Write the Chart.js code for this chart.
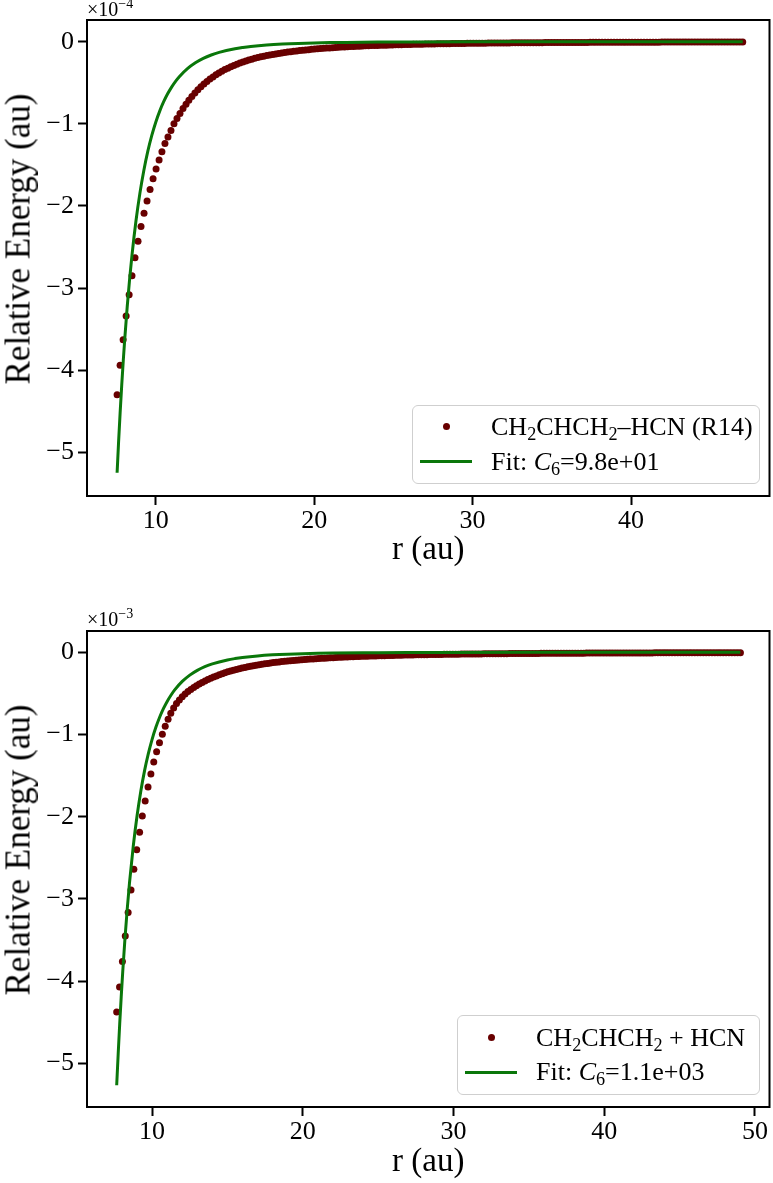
<!DOCTYPE html>
<html><head><meta charset="utf-8">
<script src="https://cdn.jsdelivr.net/npm/chart.js@4.4.0/dist/chart.umd.min.js"></script>
<style>
html,body{margin:0;padding:0;background:#fff;}
body{width:773px;height:1183px;position:relative;overflow:hidden;font-family:"Liberation Serif","DejaVu Serif",serif;color:#000;}
canvas{position:absolute;left:0;}
#c1{top:0;}
#c2{top:590px;}
.off{position:absolute;font-size:20px;line-height:1;white-space:nowrap;}
.off sup{font-size:70%;vertical-align:0.55em;line-height:0;}
.ytitle{position:absolute;font-size:35px;line-height:1;white-space:nowrap;transform:translate(-50%,-50%) rotate(-90deg);}
.legend{position:absolute;box-sizing:border-box;background:rgba(255,255,255,0.85);border:1.5px solid #cfcfcf;border-radius:6px;}
.legend .dot{position:absolute;width:7px;height:7px;border-radius:50%;background:#680000;}
.legend .ln{position:absolute;width:52px;height:3px;background:#0a770a;}
.legend .txt{position:absolute;font-size:26px;line-height:1;white-space:nowrap;transform:translateY(-50%);}
.legend sub{font-size:70%;vertical-align:-0.25em;line-height:0;}
</style>
</head><body>
<canvas id="c1" width="773" height="590"></canvas>
<canvas id="c2" width="773" height="593"></canvas>
<div class="off" style="left:87px;top:-1px;">×10<sup>−4</sup></div>
<div class="off" style="left:87px;top:609px;">×10<sup>−3</sup></div>
<div class="ytitle" style="left:18px;top:239px;">Relative Energy (au)</div>
<div class="ytitle" style="left:18px;top:850px;">Relative Energy (au)</div>
<div class="legend" style="left:412px;top:405px;width:348px;height:79px;">
  <span class="dot" style="left:30px;top:17px;"></span>
  <span class="ln" style="left:7px;top:54px;"></span>
  <span class="txt" style="left:78px;top:21px;">CH<sub>2</sub>CHCH<sub>2</sub>–HCN (R14)</span>
  <span class="txt" style="left:78px;top:56px;">Fit: <i>C</i><sub>6</sub>=9.8e+01</span>
</div>
<div class="legend" style="left:457px;top:1015px;width:303px;height:80px;">
  <span class="dot" style="left:30px;top:18px;"></span>
  <span class="ln" style="left:7px;top:55px;"></span>
  <span class="txt" style="left:78px;top:22px;">CH<sub>2</sub>CHCH<sub>2</sub> + HCN</span>
  <span class="txt" style="left:78px;top:56px;">Fit: <i>C</i><sub>6</sub>=1.1e+03</span>
</div>
<script>
// ---- Top panel: CH2CHCH2–HCN (R14); energies in units of 1e-4 au ----
const rTop = [
7.56,7.75,7.94,8.13,8.32,8.50,8.69,8.88,9.07,9.26,
9.45,9.64,9.83,10.02,10.21,10.39,10.58,10.77,10.96,11.15,
11.34,11.53,11.72,11.91,12.09,12.28,12.47,12.66,12.85,13.04,
13.23,13.42,13.61,13.80,13.98,14.17,14.36,14.55,14.74,14.93,
15.12,15.31,15.50,15.69,15.87,16.06,16.25,16.44,16.63,16.82,
17.01,17.20,17.39,17.58,17.76,17.95,18.14,18.33,18.52,18.71,
18.90,19.09,19.28,19.46,19.65,19.84,20.03,20.22,20.41,20.60,
20.79,20.98,21.17,21.35,21.54,21.73,21.92,22.11,22.30,22.49,
22.68,22.87,23.06,23.24,23.43,23.62,23.81,24.00,24.19,24.38,
24.57,24.76,24.94,25.13,25.32,25.51,25.70,25.89,26.08,26.27,
26.46,26.65,26.83,27.02,27.21,27.40,27.59,27.78,27.97,28.16,
28.35,28.54,28.72,28.91,29.10,29.29,29.48,29.67,29.86,30.05,
30.24,30.42,30.61,30.80,30.99,31.18,31.37,31.56,31.75,31.94,
32.13,32.31,32.50,32.69,32.88,33.07,33.26,33.45,33.64,33.83,
34.02,34.20,34.39,34.58,34.77,34.96,35.15,35.34,35.53,35.72,
35.91,36.09,36.28,36.47,36.66,36.85,37.04,37.23,37.42,37.61,
37.79,37.98,38.17,38.36,38.55,38.74,38.93,39.12,39.31,39.50,
39.68,39.87,40.06,40.25,40.44,40.63,40.82,41.01,41.20,41.39,
41.57,41.76,41.95,42.14,42.33,42.52,42.71,42.90,43.09,43.28,
43.46,43.65,43.84,44.03,44.22,44.41,44.60,44.79,44.98,45.16,
45.35,45.54,45.73,45.92,46.11,46.30,46.49,46.68,46.87,47.05];
const eTop = [
-4.30,-3.94,-3.63,-3.34,-3.08,-2.85,-2.63,-2.43,-2.25,-2.09,
-1.94,-1.80,-1.67,-1.55,-1.44,-1.34,-1.24,-1.16,-1.08,-1.00,
-0.936,-0.873,-0.815,-0.762,-0.712,-0.666,-0.624,-0.585,-0.548,-0.515,
-0.484,-0.455,-0.429,-0.404,-0.381,-0.360,-0.340,-0.322,-0.305,-0.289,
-0.274,-0.260,-0.247,-0.235,-0.224,-0.213,-0.203,-0.194,-0.185,-0.177,
-0.169,-0.162,-0.155,-0.149,-0.143,-0.137,-0.132,-0.126,-0.122,-0.117,
-0.113,-0.108,-0.104,-0.101,-0.097,-0.093,-0.090,-0.087,-0.084,-0.081,
-0.078,-0.076,-0.073,-0.071,-0.069,-0.066,-0.064,-0.062,-0.060,-0.058,
-0.056,-0.055,-0.053,-0.051,-0.050,-0.048,-0.047,-0.045,-0.044,-0.043,
-0.042,-0.040,-0.039,-0.038,-0.037,-0.036,-0.035,-0.034,-0.033,-0.032,
-0.031,-0.031,-0.030,-0.029,-0.028,-0.027,-0.027,-0.026,-0.025,-0.025,
-0.024,-0.024,-0.023,-0.022,-0.022,-0.021,-0.021,-0.020,-0.020,-0.019,
-0.0189,-0.0185,-0.0181,-0.0177,-0.0173,-0.0169,-0.0165,-0.0161,-0.0157,-0.0153,
-0.0150,-0.0147,-0.0144,-0.0141,-0.0138,-0.0135,-0.0132,-0.0129,-0.0127,-0.0124,
-0.0121,-0.0119,-0.0116,-0.0114,-0.0112,-0.0109,-0.0107,-0.0105,-0.0103,-0.0100,
-0.0098,-0.0096,-0.0094,-0.0093,-0.0091,-0.0089,-0.0088,-0.0086,-0.0084,-0.0082,
-0.0081,-0.0079,-0.0078,-0.0076,-0.0075,-0.0074,-0.0072,-0.0071,-0.0070,-0.0068,
-0.0067,-0.0066,-0.0065,-0.0064,-0.0063,-0.0062,-0.0061,-0.0060,-0.0059,-0.0058,
-0.0057,-0.0056,-0.0054,-0.0053,-0.0052,-0.0051,-0.0051,-0.0050,-0.0049,-0.0048,
-0.0047,-0.0046,-0.0046,-0.0045,-0.0044,-0.0044,-0.0043,-0.0042,-0.0042,-0.0041,
-0.0040,-0.0040,-0.0039,-0.0038,-0.0038,-0.0037,-0.0037,-0.0036,-0.0036,-0.0035];
const rFitTop = [7.56,7.65,7.75,7.85,7.95,8.05,8.2,8.35,8.5,8.75,9,9.25,9.5,9.75,10,10.25,10.5,10.75,11,11.25,11.5,12,12.5,13,13.5,14,15,15.5,16,17,18,19,20,21,22,24,25,27,30,35,40,47.05];
const eFitTop = [-5.249,-4.889,-4.523,-4.188,-3.882,-3.601,-3.224,-2.891,-2.598,-2.184,-1.844,-1.5645,-1.333,-1.1408,-0.98,-0.8451,-0.7313,-0.6350,-0.5532,-0.4834,-0.4237,-0.3282,-0.2569,-0.2030,-0.1619,-0.1302,-0.0860,-0.0707,-0.0584,-0.0406,-0.0288,-0.0208,-0.0153,-0.0114,-0.0086,-0.0051,-0.0040,-0.0025,-0.0013,-0.0005,-0.0002,-0.0001];

// ---- Bottom panel: CH2CHCH2 + HCN; energies in units of 1e-3 au ----
const rBot = [
7.65,7.84,8.03,8.22,8.41,8.60,8.79,8.98,9.17,9.35,
9.54,9.73,9.92,10.11,10.30,10.49,10.68,10.87,11.06,11.24,
11.43,11.62,11.81,12.00,12.19,12.38,12.57,12.76,12.94,13.13,
13.32,13.51,13.70,13.89,14.08,14.27,14.46,14.65,14.83,15.02,
15.21,15.40,15.59,15.78,15.97,16.16,16.35,16.54,16.72,16.91,
17.10,17.29,17.48,17.67,17.86,18.05,18.24,18.43,18.61,18.80,
18.99,19.18,19.37,19.56,19.75,19.94,20.13,20.31,20.50,20.69,
20.88,21.07,21.26,21.45,21.64,21.83,22.02,22.20,22.39,22.58,
22.77,22.96,23.15,23.34,23.53,23.72,23.90,24.09,24.28,24.47,
24.66,24.85,25.04,25.23,25.42,25.61,25.79,25.98,26.17,26.36,
26.55,26.74,26.93,27.12,27.31,27.50,27.68,27.87,28.06,28.25,
28.44,28.63,28.82,29.01,29.20,29.38,29.57,29.76,29.95,30.14,
30.33,30.52,30.71,30.90,31.09,31.27,31.46,31.65,31.84,32.03,
32.22,32.41,32.60,32.79,32.98,33.16,33.35,33.54,33.73,33.92,
34.11,34.30,34.49,34.68,34.87,35.05,35.24,35.43,35.62,35.81,
36.00,36.19,36.38,36.57,36.76,36.94,37.13,37.32,37.51,37.70,
37.89,38.08,38.27,38.46,38.64,38.83,39.02,39.21,39.40,39.59,
39.78,39.97,40.16,40.35,40.53,40.72,40.91,41.10,41.29,41.48,
41.67,41.86,42.05,42.24,42.42,42.61,42.80,42.99,43.18,43.37,
43.56,43.75,43.94,44.12,44.31,44.50,44.69,44.88,45.07,45.26,
45.45,45.64,45.82,46.01,46.20,46.39,46.58,46.77,46.96,47.15,
47.34,47.53,47.71,47.90,48.09,48.28,48.47,48.66,48.85,49.04];
const eBot = [
-4.375,-4.07,-3.76,-3.45,-3.165,-2.89,-2.64,-2.40,-2.19,-1.99,
-1.81,-1.637,-1.48,-1.335,-1.21,-1.10,-0.996,-0.90,-0.815,-0.74,
-0.677,-0.624,-0.579,-0.541,-0.507,-0.478,-0.452,-0.428,-0.407,-0.386,
-0.367,-0.349,-0.332,-0.316,-0.301,-0.287,-0.274,-0.261,-0.249,-0.238,
-0.228,-0.218,-0.209,-0.200,-0.192,-0.184,-0.177,-0.170,-0.163,-0.157,
-0.151,-0.145,-0.140,-0.135,-0.130,-0.125,-0.121,-0.117,-0.1133,-0.1096,
-0.1058,-0.1027,-0.0996,-0.0965,-0.0934,-0.0902,-0.0875,-0.0851,-0.0826,-0.0801,
-0.0776,-0.0752,-0.0732,-0.0712,-0.0691,-0.0671,-0.0651,-0.0634,-0.0617,-0.0600,
-0.0583,-0.0567,-0.0552,-0.0538,-0.0524,-0.0510,-0.0496,-0.0483,-0.0472,-0.0460,
-0.0448,-0.0437,-0.0426,-0.0416,-0.0406,-0.0397,-0.0387,-0.0377,-0.0368,-0.0360,
-0.0352,-0.0343,-0.0335,-0.0328,-0.0320,-0.0313,-0.0306,-0.0299,-0.0292,-0.0286,
-0.0280,-0.0274,-0.0268,-0.0262,-0.0257,-0.0251,-0.0246,-0.0241,-0.0235,-0.0231,
-0.0227,-0.0222,-0.0218,-0.0214,-0.0210,-0.0205,-0.0201,-0.0197,-0.0193,-0.0188,
-0.0185,-0.0182,-0.0179,-0.0176,-0.0172,-0.0169,-0.0166,-0.0163,-0.0160,-0.0156,
-0.0154,-0.0151,-0.0148,-0.0146,-0.0143,-0.0141,-0.0138,-0.0136,-0.0133,-0.0131,
-0.0128,-0.0126,-0.0124,-0.0122,-0.0120,-0.0118,-0.0116,-0.0114,-0.0112,-0.0110,
-0.0108,-0.0106,-0.0105,-0.0103,-0.0102,-0.0100,-0.0099,-0.0097,-0.0096,-0.0094,
-0.0093,-0.0091,-0.0090,-0.0089,-0.0087,-0.0086,-0.0085,-0.0083,-0.0082,-0.0081,
-0.0079,-0.0078,-0.0077,-0.0076,-0.0075,-0.0074,-0.0073,-0.0072,-0.0071,-0.0070,
-0.0069,-0.0067,-0.0066,-0.0065,-0.0065,-0.0064,-0.0063,-0.0062,-0.0061,-0.0060,
-0.0059,-0.0059,-0.0058,-0.0057,-0.0056,-0.0056,-0.0055,-0.0054,-0.0054,-0.0053,
-0.0052,-0.0052,-0.0051,-0.0050,-0.0050,-0.0049,-0.0048,-0.0048,-0.0047,-0.0046];
const rFitBot = [7.65,7.75,7.85,7.95,8.05,8.2,8.35,8.5,8.75,9,9.25,9.5,9.75,10,10.25,10.5,10.75,11,11.25,11.5,12,12.5,13,13.5,14,15,15.5,16,17,18,19,20,21,22,24,25,27,30,35,40,49.04];
const eFitBot = [-5.266,-4.883,-4.521,-4.191,-3.888,-3.480,-3.122,-2.805,-2.357,-1.991,-1.689,-1.439,-1.232,-1.058,-0.9123,-0.7895,-0.6855,-0.5972,-0.5219,-0.4574,-0.3543,-0.2774,-0.2192,-0.1748,-0.1405,-0.0929,-0.0763,-0.0631,-0.0438,-0.0311,-0.0225,-0.0165,-0.0123,-0.0093,-0.0055,-0.0043,-0.0027,-0.0015,-0.0006,-0.0003,-0.0001];

// ---- Tick labels ----
const xTicksTop = [10,20,30,40];
const xTicksBot = [10,20,30,40,50];
const yTicks = [-5,-4,-3,-2,-1,0];

const FONT = "'Liberation Serif','DejaVu Serif',serif";
const DOT = '#680000';
const FIT = '#0a770a';

const framePlugin = {
  id:'frame',
  afterDraw(chart){
    const {ctx, chartArea:a} = chart;
    ctx.save();
    ctx.strokeStyle = '#000';
    ctx.lineWidth = 2;
    ctx.strokeRect(a.left, a.top, a.right - a.left, a.bottom - a.top);
    ctx.restore();
  }
};

function fmtY(v){ return v === 0 ? '0' : (v < 0 ? '\u2212' + Math.abs(v) : String(v)); }

function makeChart(id, cfg){
  const ctx = document.getElementById(id);
  return new Chart(ctx, {
    type:'scatter',
    data:{
      datasets:[
        {
          type:'line',
          data: cfg.rFit.map((r,i)=>({x:r, y:cfg.eFit[i]})),
          borderColor: FIT, backgroundColor: FIT, borderWidth: 3,
          pointRadius: 0, fill:false, cubicInterpolationMode:'monotone',
          order: 0
        },
        {
          type:'scatter',
          data: cfg.rDots.map((r,i)=>({x:r, y:cfg.eDots[i]})),
          backgroundColor: DOT, borderColor: DOT, borderWidth: 0,
          pointRadius: 3.5, pointHoverRadius: 3.5,
          order: 1
        }
      ]
    },
    options:{
      responsive:false, animation:false, devicePixelRatio:1,
      layout:{padding:{top:cfg.padTop, right:1, bottom:0, left:0}},
      plugins:{legend:{display:false}, tooltip:{enabled:false}},
      scales:{
        x:{
          type:'linear', min:cfg.xmin, max:cfg.xmax,
          afterBuildTicks: s => { s.ticks = cfg.xTicks.map(v => ({value:v})); },
          afterFit: s => { s.height = cfg.xAxisH; },
          grid:{display:true, drawOnChartArea:false, drawTicks:true, tickLength:9, tickWidth:2, tickColor:'#000'},
          border:{display:false},
          ticks:{color:'#000', font:{family:FONT, size:26}, padding:1, maxRotation:0, autoSkip:false},
          title:{display:true, text:'r (au)', color:'#000', font:{family:FONT, size:33}, padding:{top:0, bottom:cfg.xTitlePad}}
        },
        y:{
          type:'linear', min:cfg.ymin, max:cfg.ymax,
          afterBuildTicks: s => { s.ticks = yTicks.map(v => ({value:v})); },
          afterFit: s => { s.width = 87; },
          grid:{display:true, drawOnChartArea:false, drawTicks:true, tickLength:9, tickWidth:2, tickColor:'#000'},
          border:{display:false},
          ticks:{color:'#000', font:{family:FONT, size:26}, padding:4, callback: v => fmtY(v), autoSkip:false},
          title:{display:false}
        }
      }
    },
    plugins:[framePlugin]
  });
}

makeChart('c1', {
  rDots:rTop, eDots:eTop, rFit:rFitTop, eFit:eFitTop,
  xmin:5.66, xmax:48.74, ymin:-5.532, ymax:0.264,
  xTicks:xTicksTop, padTop:20, xAxisH:94, xTitlePad:20
});
makeChart('c2', {
  rDots:rBot, eDots:eBot, rFit:rFitBot, eFit:eFitBot,
  xmin:5.68, xmax:50.97, ymin:-5.530, ymax:0.259,
  xTicks:xTicksBot, padTop:41, xAxisH:76, xTitlePad:1
});
</script>
</body></html>
